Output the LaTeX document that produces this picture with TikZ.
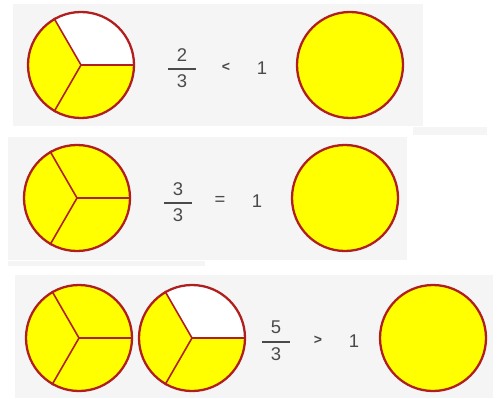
\documentclass[tikz,border=0pt]{standalone}
\usepackage{amsmath}
\usepackage{fontspec}
\setmainfont{Liberation Sans}
\definecolor{rim}{HTML}{B01E1E}
\definecolor{pie}{HTML}{FFFF00}
\definecolor{panelgrey}{HTML}{F5F5F5}
\definecolor{digitgrey}{HTML}{4A4A4A}
\newcommand{\partsof}[2]{$\genfrac{}{}{0.9pt}{0}{\makebox[16pt]{#1}}{\makebox[16pt]{#2}}$}
\begin{document}
\begin{tikzpicture}[
    every node/.style={font=\fontsize{10.5}{12}\selectfont, text=digitgrey},
    disc/.style={circle, draw=rim, fill=pie, line width=1.3pt, minimum size=2.12cm, inner sep=0pt},
    twothirds/.style={path picture={\fill[white] (path picture bounding box.center) -- ++(0:1.3) arc[start angle=0, end angle=120, radius=1.3] -- cycle;}},
    spoke/.style={draw=rim, line width=0.9pt},
    panel/.style={fill=panelgrey},
    sign/.style={font=\fontsize{8}{9}\selectfont\bfseries}]
    \useasboundingbox (0,0) rectangle (10,7.96);

    % backgrounds
    \fill[panel] (0.26,5.44) rectangle (8.46,7.88);
    \fill[panel] (8.26,5.26) rectangle (9.74,5.42);
    \fill[panel] (0.16,2.76) rectangle (8.14,5.22);
    \fill[panel] (0.16,2.64) rectangle (4.10,2.74);
    \fill[panel] (0.30,0) rectangle (9.86,2.46);

    % 2/3 < 1
    \node[disc, twothirds] (c1) at (1.62,6.66) {};
    \node (f1) at (3.64,6.60) {\partsof{2}{3}};
    \node[sign] (s1) at (4.52,6.62) {<};
    \node (o1) at (5.24,6.60) {1};
    \node[disc] (w1) at (7.00,6.66) {};

    % 3/3 = 1
    \node[disc] (c3) at (1.54,4.00) {};
    \node (f2) at (3.56,3.92) {\partsof{3}{3}};
    \node (s2) at (4.40,3.94) {=};
    \node (o2) at (5.14,3.94) {1};
    \node[disc] (w2) at (6.90,4.00) {};

    % 5/3 > 1
    \node[disc] (c5) at (1.58,1.20) {};
    \node[disc, twothirds] (c6) at (3.84,1.20) {};
    \node (f3) at (5.52,1.14) {\partsof{5}{3}};
    \node[sign] (s3) at (6.36,1.16) {>};
    \node (o3) at (7.08,1.14) {1};
    \node[disc] (w3) at (8.66,1.20) {};

    \foreach \c in {c1,c3,c5,c6} {
      \foreach \a in {0,120,240} {
        \draw[spoke] (\c.center) -- (\c.\a);
      }
    }
\end{tikzpicture}
\end{document}
